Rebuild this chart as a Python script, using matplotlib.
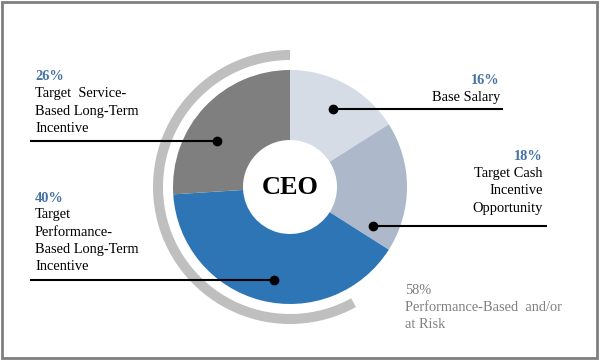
import matplotlib.pyplot as plt
import numpy as np
from matplotlib.patches import Wedge, Rectangle

# CEO pay mix (percent), clockwise from 12 o'clock
shares = [16, 18, 40, 26]
pcts = ['16%', '18%', '40%', '26%']
names = ['Base Salary',
         'Target Cash\nIncentive\nOpportunity',
         'Target\nPerformance-\nBased Long-Term\nIncentive',
         'Target  Service-\nBased Long-Term\nIncentive']
colors = ['#D6DCE5', '#ADB9CA', '#2E75B6', '#7F7F7F']
at_risk = 58
at_risk_label = 'Performance-Based  and/or\nat Risk'

W, H = 600, 361
cx, cy = 290, H - 187
r_out, r_in = 117, 47

# leader dot angle / radius for each slice, label anchor (pixels, from top)
dot_ang = [61, -25, -100, 148]
dot_rad = [89, 92, 94, 86]
line_end = [503, 547, 30, 30]
label_x = [500, 543, 35, 35]
label_top = [81, 157, 198, 77]
ha = ['right', 'right', 'left', 'left']

plt.rcParams['font.family'] = ['Liberation Serif', 'DejaVu Serif']
fs = 10.4
lsp = 1.45

fig = plt.figure(figsize=(6, 3.61), dpi=100)
ax = fig.add_axes([0, 0, 1, 1])
ax.pie(shares, colors=colors, startangle=90, counterclock=False,
       radius=r_out, center=(cx, cy),
       wedgeprops=dict(width=r_out - r_in, linewidth=0))
ax.set_xlim(0, W)
ax.set_ylim(0, H)
ax.set_aspect('equal')
ax.axis('off')

# outer grey arc for the at-risk portion, counter-clockwise from the top
ax.add_patch(Wedge((cx, cy), 137, 90, 90 + at_risk / 100 * 360, width=10,
                   facecolor='#BFBFBF', edgecolor='none'))

ax.text(cx, cy, 'CEO', ha='center', va='center', fontsize=19,
        fontweight='bold', color='black')

for i in range(len(shares)):
    a = np.radians(dot_ang[i])
    dx = cx + dot_rad[i] * np.cos(a)
    dy = cy + dot_rad[i] * np.sin(a)
    ax.plot([dx, line_end[i]], [dy, dy], color='black', lw=1.5,
            solid_capstyle='butt')
    ax.plot(dx, dy, 'o', color='black', ms=6)
    ax.text(label_x[i], H - label_top[i], pcts[i], ha=ha[i], va='center',
            fontsize=fs, fontweight='bold', color='#4472A4')
    ax.text(label_x[i], H - label_top[i] - 10, names[i], ha=ha[i], va='top',
            fontsize=fs, linespacing=lsp, color='black',
            multialignment=ha[i])

ax.text(405, H - 291, f'{at_risk}%', ha='left', va='center', fontsize=fs,
        color='#808080')
ax.text(405, H - 301, at_risk_label, ha='left', va='top', fontsize=fs,
        linespacing=lsp, color='#808080')

ax.add_patch(Rectangle((2, 3), W - 5, H - 5, fill=False,
                       edgecolor='#7F7F7F', lw=2))

fig.savefig('out.png', dpi=100)
